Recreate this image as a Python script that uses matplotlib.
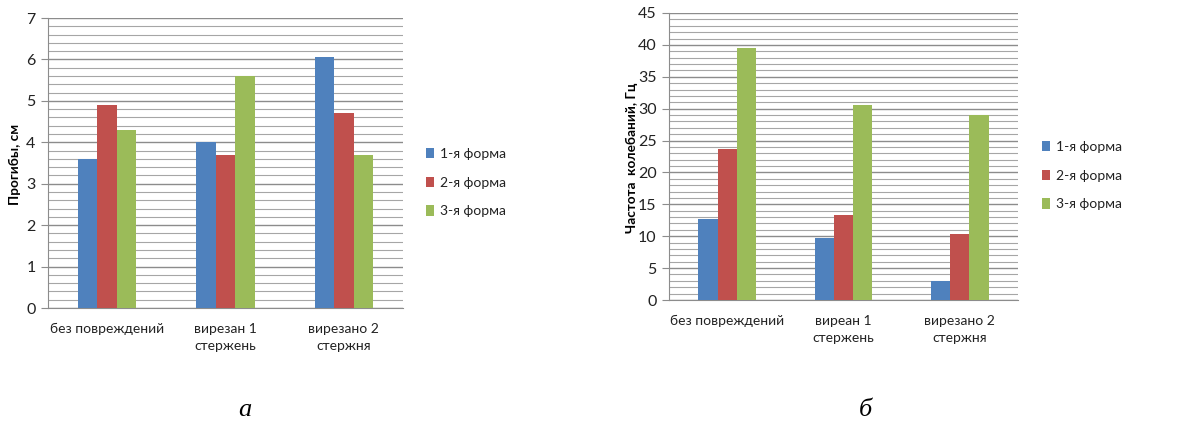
import matplotlib
matplotlib.use("Agg")
import matplotlib.pyplot as plt
import numpy as np
from matplotlib.patches import Patch

# --- data ---
series_names = ["1-я форма", "2-я форма", "3-я форма"]
colors = ["#4F81BD", "#C0504D", "#9BBB59"]

cats_a = ["без повреждений", "вирезан 1\nстержень", "вирезано 2\nстержня"]
deflection = [
    [3.6, 4.0, 6.07],   # 1-я форма
    [4.9, 3.7, 4.7],    # 2-я форма
    [4.3, 5.6, 3.7],    # 3-я форма
]

cats_b = ["без повреждений", "виреан 1\nстержень", "вирезано 2\nстержня"]
frequency = [
    [12.7, 9.7, 3.0],   # 1-я форма
    [23.6, 13.3, 10.3], # 2-я форма
    [39.5, 30.5, 29.0], # 3-я форма
]

ylabel_a = "Прогибы, см"
ylabel_b = "Частота  колебаний, Гц"

plt.rcParams['font.family'] = ['Lato', 'DejaVu Sans']

W, H = 1192, 425
fig = plt.figure(figsize=(W / 100, H / 100), dpi=100)


def px_axes(x0, x1, y0, y1):
    return fig.add_axes([x0 / W, 1 - y1 / H, (x1 - x0) / W, (y1 - y0) / H])


def draw_panel(ax, cats, data, ymax, major, minor):
    x = np.arange(len(cats))
    bw = 0.165
    for i, (vals, c) in enumerate(zip(data, colors)):
        ax.bar(x + (i - 1) * bw, vals, width=bw, color=c, zorder=3, linewidth=0)
    ax.set_xlim(-0.5, len(cats) - 0.5)
    ax.set_ylim(0, ymax)
    ax.set_yticks(np.arange(0, ymax + 0.001, major))
    ax.set_yticks(np.arange(0, ymax + 0.001, minor), minor=True)
    ax.yaxis.grid(True, which='major', color='#8c8c8c', linewidth=1.0, zorder=0)
    ax.yaxis.grid(True, which='minor', color='#a6a6a6', linewidth=0.8, zorder=0)
    ax.set_axisbelow(True)
    ax.set_xticks(x)
    ax.set_xticklabels(cats, fontsize=10, color='#222222', linespacing=1.5)
    ax.tick_params(axis='x', length=0, pad=11)
    ax.tick_params(axis='y', which='major', length=5, color='#8c8c8c',
                   labelsize=11.5, labelcolor='#222222', pad=4)
    ax.tick_params(axis='y', which='minor', length=0)
    for s in ['top', 'right']:
        ax.spines[s].set_visible(False)
    ax.spines['left'].set_color('#8c8c8c')
    ax.spines['bottom'].set_color('#8c8c8c')


ax1 = px_axes(48, 403, 18, 308)
draw_panel(ax1, cats_a, deflection, 7, 1, 0.2)
ax2 = px_axes(669, 1018, 13, 300)
draw_panel(ax2, cats_b, frequency, 45, 5, 1)

fig.text(15 / W, 1 - 164 / H, ylabel_a, rotation=90, fontsize=9.8, fontweight='bold',
         ha='center', va='center')
fig.text(632 / W, 1 - 158 / H, ylabel_b, rotation=90, fontsize=9.8, fontweight='bold',
         ha='center', va='center')

handles = [Patch(facecolor=c, edgecolor='none') for c in colors]
for (lx, ly) in [(426, 148), (1042, 141)]:
    fig.legend(handles, series_names, loc='upper left',
               bbox_to_anchor=(lx / W, 1 - ly / H), frameon=False,
               fontsize=10, handlelength=0.55, handleheight=0.75, handletextpad=0.45,
               labelspacing=1.2, borderpad=0, borderaxespad=0,
               labelcolor='#222222')

fig.text(245 / W, 1 - 410 / H, "а", fontsize=19, style='italic',
         family='Liberation Serif', ha='center', va='center')
fig.text(865 / W, 1 - 410 / H, "б", fontsize=19, style='italic',
         family='Liberation Serif', ha='center', va='center')

fig.savefig("out.png", dpi=100, facecolor='white')
